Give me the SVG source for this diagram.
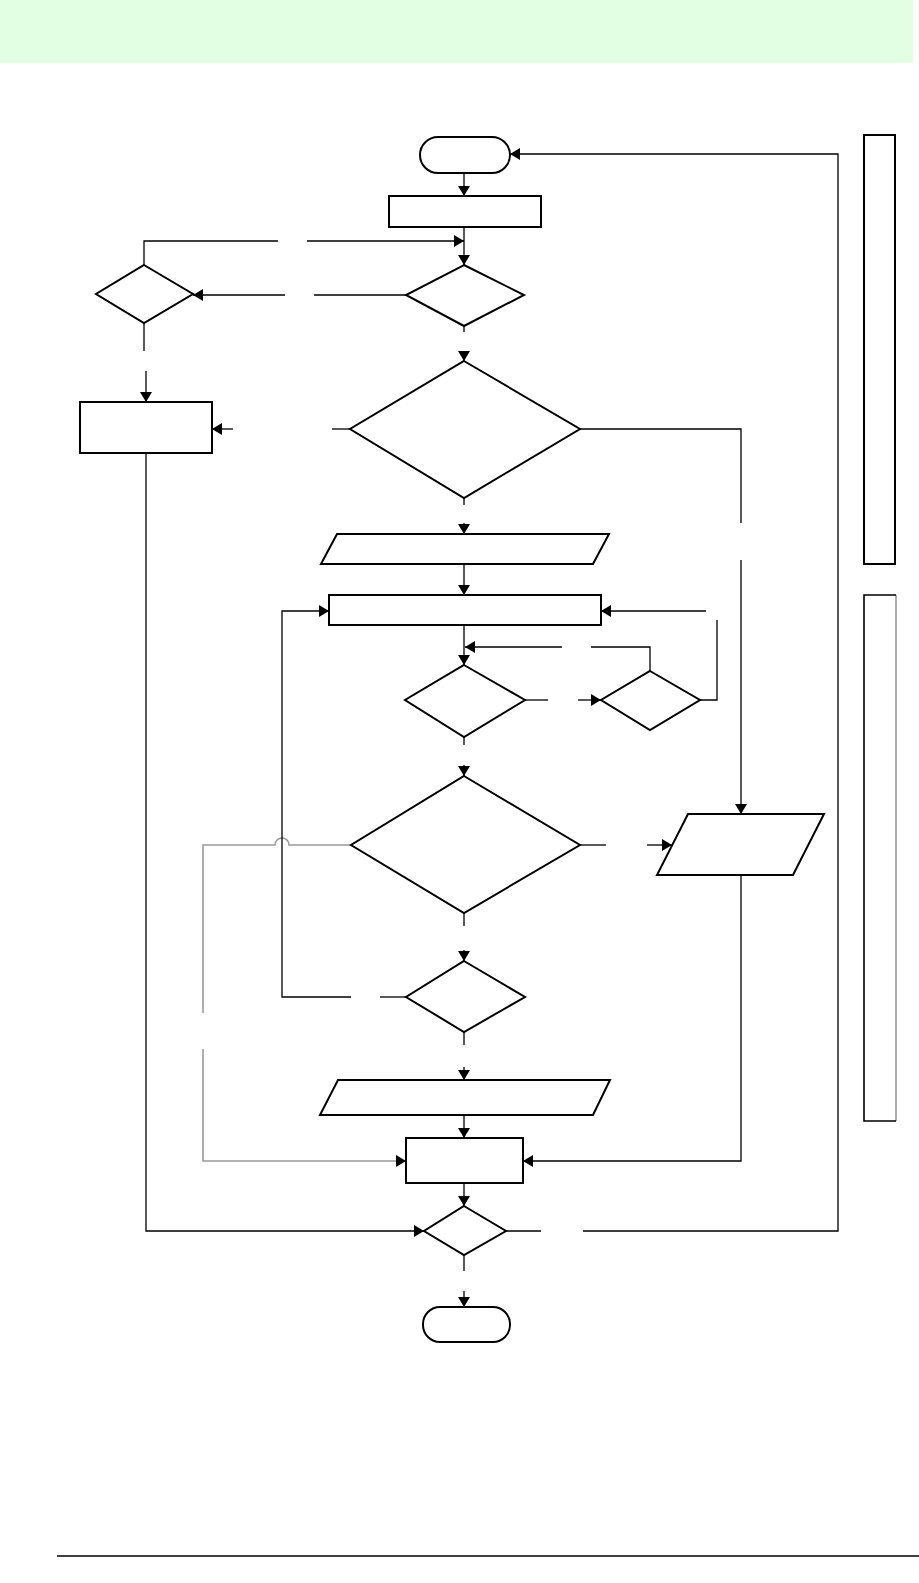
<svg xmlns="http://www.w3.org/2000/svg" width="919" height="1583" viewBox="0 0 919 1583">
<style>
.s{fill:#fff;stroke:#000;stroke-width:2}
.c{fill:none;stroke:#000;stroke-width:1.3}
.g{fill:none;stroke:#999;stroke-width:1.6}
.a{marker-end:url(#ah)}
</style>
<defs>
<marker id="ah" markerUnits="userSpaceOnUse" markerWidth="12" markerHeight="12" refX="10" refY="6" orient="auto">
<path d="M0,0 L10,6 L0,12 z" fill="#000"/>
</marker>
</defs>
<rect x="0" y="0" width="913" height="63" fill="#e2fee3"/>
<line x1="57" y1="1556" x2="919" y2="1556" stroke="#000" stroke-width="1.5"/>
<g id="sideA"><rect x="864" y="135" width="31" height="429" class="s" stroke-width="1.6"/></g>
<g id="sideB"><rect x="864" y="595" width="32" height="526" fill="#fff" stroke="none"/><path d="M896,595 V1121" stroke="#999" stroke-width="1.6"/><path d="M896,595 H864 V1121 H896" fill="none" stroke="#000" stroke-width="1.6"/></g>
<g id="connectors">
<path class="c a" d="M464,173 V196"/>
<path class="c a" d="M464,227 V265"/>
<path class="c" d="M144,265 V241 H278"/>
<path class="c a" d="M307,241 H464"/>
<path class="c" d="M406,295 H314"/>
<path class="c a" d="M285,295 H193"/>
<path class="c" d="M144,323 V351"/>
<path class="c a" d="M146,371 V402"/>
<path class="c" d="M464,326 V332"/>
<path class="c a" d="M464,352 V361"/>
<path class="c" d="M350,429 H332"/>
<path class="c a" d="M233,429 H212"/>
<path class="c" d="M580,429 H741 V523"/>
<path class="c a" d="M741,560 V814"/>
<path class="c" d="M464,498 V505"/>
<path class="c a" d="M464,523 V534"/>
<path class="c a" d="M464,564 V595"/>
<path class="c a" d="M464,625 V665"/>
<path class="c" d="M650,671 V647 H591"/>
<path class="c a" d="M562,647 H465"/>
<path class="c" d="M525,700 H548"/>
<path class="c a" d="M578,700 H601"/>
<path class="c" d="M700,700 H717 V620"/>
<path class="c a" d="M706,611 H601"/>
<path class="c" d="M464,737 V745"/>
<path class="c a" d="M464,765 V776"/>
<path class="g" d="M351,845 H289 A7,7 0 0 0 275,845 H203 V1013"/>
<path class="g a" d="M203,1049 V1161 H406"/>
<path class="c" d="M580,845 H606"/>
<path class="c a" d="M647,845 H672"/>
<path class="c" d="M464,913 V926"/>
<path class="c a" d="M464,950 V961"/>
<path class="c" d="M406,997 H380"/>
<path class="c a" d="M351,997 H282 V611 H329"/>
<path class="c" d="M464,1032 V1045"/>
<path class="c a" d="M464,1067 V1080"/>
<path class="c a" d="M464,1115 V1138"/>
<path class="c a" d="M741,875 V1161 H523"/>
<path class="c a" d="M146,453 V1231 H424"/>
<path class="c a" d="M464,1183 V1206"/>
<path class="c" d="M506,1231 H541"/>
<path class="c a" d="M583,1231 H838 V154 H510"/>
<path class="c" d="M464,1255 V1271"/>
<path class="c a" d="M464,1291 V1307"/>
</g>
<g id="start"><rect x="420" y="137" width="90" height="36" rx="18" class="s"/></g>
<g id="rect1"><rect x="389" y="196" width="152" height="31" class="s"/></g>
<g id="d1"><polygon points="464,265 524,295 464,326 406,295" class="s"/></g>
<g id="d2"><polygon points="144,265 193,294 144,323 96,294" class="s"/></g>
<g id="rect2"><rect x="80" y="402" width="132" height="51" class="s"/></g>
<g id="d3"><polygon points="464,361 580,429 464,498 350,429" class="s"/></g>
<g id="para1"><polygon points="337,534 609,534 593,564 321,564" class="s"/></g>
<g id="rect3"><rect x="329" y="595" width="272" height="30" class="s"/></g>
<g id="d4"><polygon points="464,665 525,700 464,737 405,700" class="s"/></g>
<g id="d5"><polygon points="650,671 700,700 650,730 601,700" class="s"/></g>
<g id="d6"><polygon points="464,776 580,845 464,913 351,845" class="s"/></g>
<g id="para2"><polygon points="688,814 824,814 793,875 657,875" class="s"/></g>
<g id="d7"><polygon points="464,961 525,997 464,1032 406,997" class="s"/></g>
<g id="para3"><polygon points="338,1080 610,1080 593,1115 320,1115" class="s"/></g>
<g id="rect4"><rect x="406" y="1138" width="117" height="45" class="s"/></g>
<g id="d8"><polygon points="464,1206 506,1231 464,1255 424,1231" class="s"/></g>
<g id="end"><rect x="423" y="1307" width="87" height="35" rx="17" class="s"/></g>
</svg>
